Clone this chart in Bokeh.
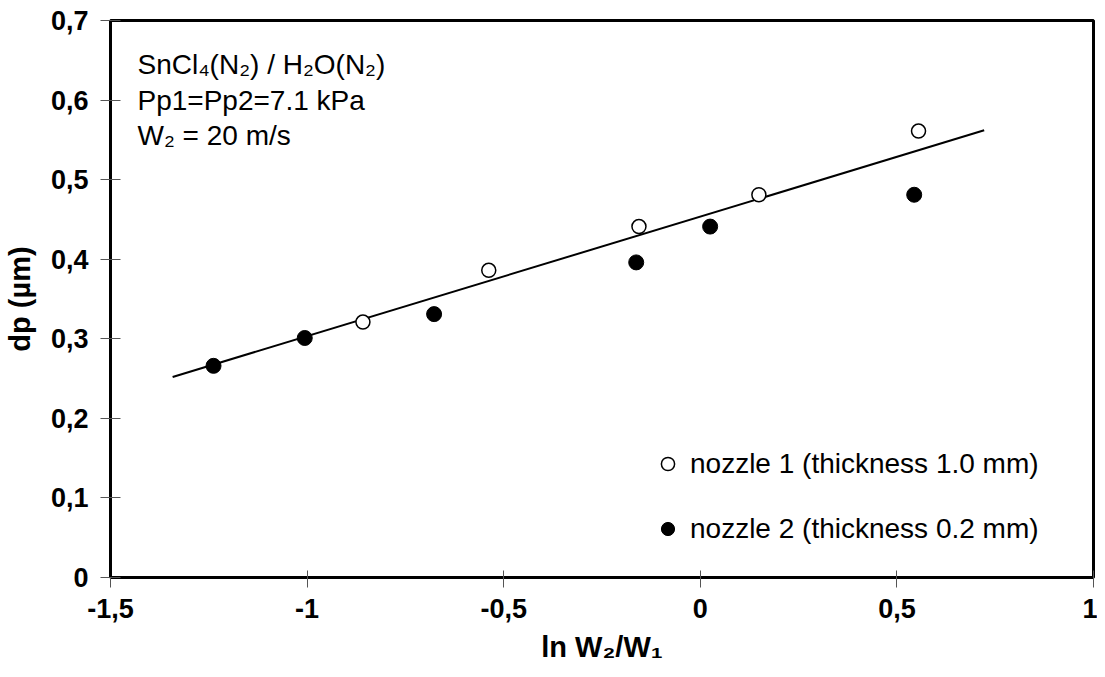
from bokeh.plotting import figure
from bokeh.models import Range1d, FixedTicker, Label, Legend, LegendItem
from bokeh.embed import file_html
from bokeh.resources import INLINE

# data
n1_x = [-0.858, -0.538, -0.156, 0.149, 0.555]
n1_y = [0.321, 0.386, 0.441, 0.481, 0.561]
n2_x = [-1.238, -1.006, -0.677, -0.163, 0.025, 0.544]
n2_y = [0.266, 0.301, 0.331, 0.396, 0.441, 0.481]
fit_x = [-1.342, 0.722]
fit_y = [0.252, 0.562]

x_ticks = [-1.5, -1.0, -0.5, 0.0, 0.5, 1.0]
x_tick_labels = ["-1,5", "-1", "-0,5", "0", "0,5", "1"]
y_ticks = [0.0, 0.1, 0.2, 0.3, 0.4, 0.5, 0.6, 0.7]
y_tick_labels = ["0", "0,1", "0,2", "0,3", "0,4", "0,5", "0,6", "0,7"]

series_labels = ["nozzle 1 (thickness 1.0 mm)", "nozzle 2 (thickness 0.2 mm)"]
note_lines = ["SnCl₄(N₂) / H₂O(N₂)", "Pp1=Pp2=7.1 kPa", "W₂ = 20 m/s"]

FONT = "Liberation Sans"

p = figure(width=1097, height=669, output_backend="svg", toolbar_location=None,
           x_range=Range1d(-1.5, 1.0), y_range=Range1d(0.0, 0.7),
           min_border_left=110, min_border_right=4, min_border_top=20, min_border_bottom=92)
p.xgrid.visible = False
p.ygrid.visible = False
p.outline_line_color = "black"
p.outline_line_width = 3
p.background_fill_color = "white"
p.border_fill_color = "white"

for ax, ticks, labels in ((p.xaxis[0], x_ticks, x_tick_labels), (p.yaxis[0], y_ticks, y_tick_labels)):
    ax.ticker = FixedTicker(ticks=ticks)
    ax.major_label_overrides = {t: l for t, l in zip(ticks, labels)}
    ax.minor_tick_line_color = None
    ax.axis_line_color = "black"
    ax.axis_line_width = 3
    ax.major_tick_line_color = "#555555"
    ax.major_tick_line_width = 1
    ax.major_tick_out = 10
    ax.major_label_text_font = FONT
    ax.major_label_text_font_style = "bold"
    ax.major_label_text_font_size = "27px"
    ax.major_label_text_color = "black"
    ax.axis_label_text_font = FONT
    ax.axis_label_text_font_style = "bold"
    ax.axis_label_text_font_size = "29px"
    ax.axis_label_text_color = "black"

p.xaxis[0].major_tick_in = 7
p.yaxis[0].major_tick_in = 10
p.xaxis[0].axis_label = "ln W₂/W₁"
p.yaxis[0].axis_label = "dp (µm)"
p.xaxis[0].major_label_standoff = 11
p.yaxis[0].major_label_standoff = 12
p.xaxis[0].axis_label_standoff = 10
p.yaxis[0].axis_label_standoff = 12

p.line(fit_x, fit_y, line_color="black", line_width=2)
r1 = p.scatter(n1_x, n1_y, marker="circle", size=14, fill_color="white",
               line_color="black", line_width=1.5)
r2 = p.scatter(n2_x, n2_y, marker="circle", size=15, fill_color="black",
               line_color="black", line_width=1)

legend = Legend(items=[LegendItem(label=series_labels[0], renderers=[r1]),
                       LegendItem(label=series_labels[1], renderers=[r2])],
                location=(541, 32), orientation="vertical",
                glyph_width=33, glyph_height=33, label_height=33, spacing=32,
                label_standoff=6, padding=0, margin=0,
                label_text_font=FONT, label_text_font_size="28px",
                label_text_color="black",
                border_line_color=None, background_fill_alpha=0)
p.add_layout(legend)

note_y = [513, 477, 442]
for txt, yy in zip(note_lines, note_y):
    p.add_layout(Label(x=27, y=yy, x_units="screen", y_units="screen", text=txt,
                       text_font=FONT, text_font_size="28px", text_color="black",
                       text_baseline="alphabetic"))

open("out.html", "w").write(file_html(p, INLINE))
